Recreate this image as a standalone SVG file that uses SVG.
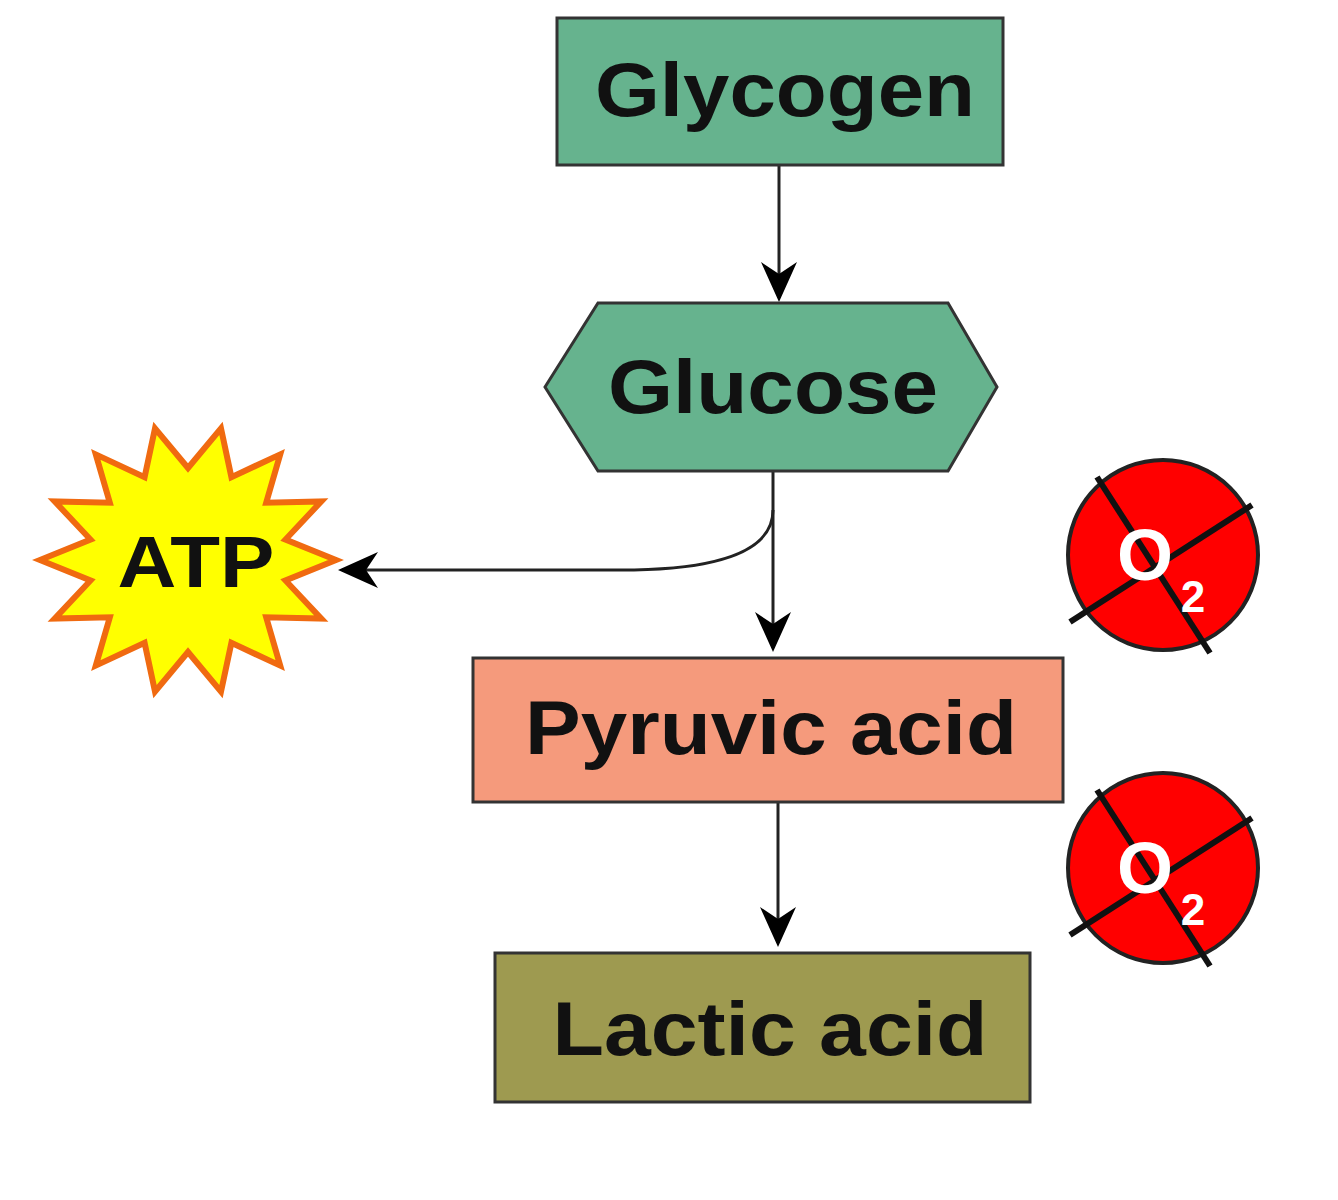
<svg xmlns="http://www.w3.org/2000/svg" width="1338" height="1200" viewBox="0 0 1338 1200">
<defs>
<style>
.lbl{font-family:"Liberation Sans",Arial,sans-serif;font-weight:bold;fill:#111;text-anchor:middle}
.box{stroke:#333;stroke-width:3}
.con{fill:none;stroke:#222;stroke-width:3}
.cross{stroke:#111;stroke-width:6}
.o2{font-family:"Liberation Sans",Arial,sans-serif;font-weight:bold;fill:#fff}
</style>
<marker id="ah2" viewBox="0 0 20 20" refX="18" refY="10" markerWidth="40" markerHeight="40" markerUnits="userSpaceOnUse" orient="auto">
<path d="M0,1 L20,10 L0,19 L6,10 Z" fill="#000"/>
</marker>
</defs>
<rect width="1338" height="1200" fill="#fff"/>
<g id="connectors">
<path class="con" d="M779,165 L779,298" marker-end="url(#ah2)"/>
<path class="con" d="M773,471 L773,648" marker-end="url(#ah2)"/>
<path class="con" d="M773,510 Q773,570 620,570 L342,570" marker-end="url(#ah2)"/>
<path class="con" d="M778,802 L778,943" marker-end="url(#ah2)"/>
</g>
<g id="glycogen">
<rect class="box" x="557" y="18" width="446" height="147" fill="#66b38e"/>
<text class="lbl" x="785" y="116" font-size="76" textLength="380" lengthAdjust="spacingAndGlyphs">Glycogen</text>
</g>
<g id="glucose">
<polygon class="box" points="545,387 598,303 948,303 997,387 948,471 598,471" fill="#66b38e"/>
<text class="lbl" x="773" y="413" font-size="76" textLength="330" lengthAdjust="spacingAndGlyphs">Glucose</text>
</g>
<g id="pyruvic">
<rect class="box" x="473" y="658" width="590" height="144" fill="#f59a7c"/>
<text class="lbl" x="771" y="754" font-size="76" textLength="492" lengthAdjust="spacingAndGlyphs">Pyruvic acid</text>
</g>
<g id="lactic">
<rect class="box" x="495" y="953" width="535" height="149" fill="#9e9a50"/>
<text class="lbl" x="770" y="1055" font-size="76" textLength="435" lengthAdjust="spacingAndGlyphs">Lactic acid</text>
</g>
<g id="atp">
<polygon points="40,560 90.5,539.5 54.7,501.4 109.8,502.7 95.8,454.4 144.6,477.1 155,428.4 188,468 221,428.4 231.4,477.1 280.2,454.4 266.2,502.7 321.3,501.4 285.5,539.5 336,560 285.5,580.5 321.3,618.6 266.2,617.3 280.2,665.6 231.4,642.9 221,691.6 188,652 155,691.6 144.6,642.9 95.8,665.6 109.8,617.3 54.7,618.6 90.5,580.5" fill="#ffff00" stroke="#f06a10" stroke-width="6"/>
<text class="lbl" x="196" y="587" font-size="72" textLength="157" lengthAdjust="spacingAndGlyphs">ATP</text>
</g>
<g id="noO2a">
<circle cx="1163" cy="555" r="95" fill="#ff0000" stroke="#222" stroke-width="4"/>
<line class="cross" x1="1097" y1="477" x2="1210" y2="653"/>
<line class="cross" x1="1070" y1="622" x2="1252" y2="505"/>
<text class="o2" x="1145" y="580" font-size="72" text-anchor="middle">O</text>
<text class="o2" x="1193" y="612" font-size="44" text-anchor="middle">2</text>
</g>
<g id="noO2b">
<circle cx="1163" cy="868" r="95" fill="#ff0000" stroke="#222" stroke-width="4"/>
<line class="cross" x1="1097" y1="790" x2="1210" y2="966"/>
<line class="cross" x1="1070" y1="935" x2="1252" y2="818"/>
<text class="o2" x="1145" y="893" font-size="72" text-anchor="middle">O</text>
<text class="o2" x="1193" y="925" font-size="44" text-anchor="middle">2</text>
</g>
</svg>
